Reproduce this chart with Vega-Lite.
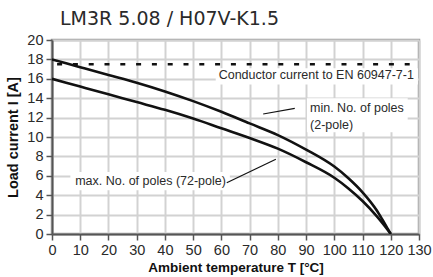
{
  "$schema": "https://vega.github.io/schema/vega-lite/v6.json",
  "autosize": "none",
  "width": 367,
  "height": 194,
  "padding": {"left": 52, "top": 40, "right": 14, "bottom": 43},
  "background": "white",
  "config": {
    "view": {"stroke": "#9a9a9a", "strokeWidth": 2.5},
    "font": "Liberation Sans",
    "axis": {
      "gridColor": "#d2d2d2",
      "gridWidth": 2,
      "domainColor": "#555555",
      "domainWidth": 2,
      "tickColor": "#555555",
      "tickWidth": 1.5,
      "tickSize": 6,
      "labelFont": "Liberation Sans",
      "labelFontSize": 14.5,
      "labelColor": "#2a2a2a",
      "labelPadding": 3,
      "labelFlush": false,
      "titleFont": "Liberation Sans",
      "titleFontWeight": "bold",
      "titleColor": "#111111"
    },
    "axisX": {"tickCount": 13, "titleFontSize": 13.5, "titlePadding": 4},
    "axisY": {"tickCount": 10, "titleFontSize": 14.5, "titlePadding": 6}
  },
  "title": {
    "text": "LM3R 5.08 / H07V-K1.5",
    "anchor": "start",
    "frame": "group",
    "offset": 3,
    "dx": 8,
    "font": "DejaVu Sans",
    "fontSize": 19,
    "fontWeight": "normal",
    "color": "#2a2a2a"
  },
  "datasets": {
    "curves": [
      {"series": "min", "T": 0, "I": 18.0},
      {"series": "min", "T": 10, "I": 17.2},
      {"series": "min", "T": 20, "I": 16.4},
      {"series": "min", "T": 30, "I": 15.6},
      {"series": "min", "T": 40, "I": 14.7},
      {"series": "min", "T": 50, "I": 13.7},
      {"series": "min", "T": 60, "I": 12.6},
      {"series": "min", "T": 70, "I": 11.4},
      {"series": "min", "T": 80, "I": 10.2},
      {"series": "min", "T": 90, "I": 8.7},
      {"series": "min", "T": 100, "I": 6.95},
      {"series": "min", "T": 105, "I": 5.75},
      {"series": "min", "T": 110, "I": 4.3},
      {"series": "min", "T": 115, "I": 2.45},
      {"series": "min", "T": 117, "I": 1.5},
      {"series": "min", "T": 119, "I": 0.5},
      {"series": "min", "T": 120, "I": 0},
      {"series": "max", "T": 0, "I": 16.0},
      {"series": "max", "T": 10, "I": 15.2},
      {"series": "max", "T": 20, "I": 14.4},
      {"series": "max", "T": 30, "I": 13.6},
      {"series": "max", "T": 40, "I": 12.8},
      {"series": "max", "T": 50, "I": 11.9},
      {"series": "max", "T": 60, "I": 10.9},
      {"series": "max", "T": 70, "I": 9.9},
      {"series": "max", "T": 80, "I": 8.8},
      {"series": "max", "T": 90, "I": 7.4},
      {"series": "max", "T": 100, "I": 5.8},
      {"series": "max", "T": 105, "I": 4.7},
      {"series": "max", "T": 110, "I": 3.4},
      {"series": "max", "T": 115, "I": 1.85},
      {"series": "max", "T": 117, "I": 1.15},
      {"series": "max", "T": 119, "I": 0.4},
      {"series": "max", "T": 120, "I": 0}
    ],
    "refline": [
      {"I": 17.5}
    ],
    "boxes": [
      {"T": 58, "T2": 129.6, "I": 15.4, "I2": 17.1},
      {"T": 90.3, "T2": 126, "I": 10.5, "I2": 14.0},
      {"T": 6.5, "T2": 63, "I": 4.5, "I2": 6.4}
    ],
    "labelsRight": [
      {"text": "Conductor current to EN 60947-7-1", "T": 128.2, "I": 16.4}
    ],
    "labelsLeft": [
      {"text": "min. No. of poles", "T": 91.4, "I": 12.96},
      {"text": "(2-pole)", "T": 91.4, "I": 11.24},
      {"text": "max. No. of poles (72-pole)", "T": 8.2, "I": 5.5}
    ],
    "leaders": [
      {"T": 74.8, "I": 12.37, "T2": 86.0, "I2": 12.96},
      {"T": 61.9, "I": 5.29, "T2": 79.3, "I2": 7.7}
    ]
  },
  "layer": [
    {
      "data": {"name": "curves"},
      "mark": {"type": "line", "interpolate": "monotone", "strokeWidth": 2.6, "clip": true},
      "encoding": {
        "x": {
          "field": "T", "type": "quantitative",
          "scale": {"domain": [0, 130], "nice": false, "zero": false},
          "axis": {"title": "Ambient temperature T [°C]"}
        },
        "y": {
          "field": "I", "type": "quantitative",
          "scale": {"domain": [0, 20], "nice": false},
          "axis": {"title": "Load current I [A]"}
        },
        "detail": {"field": "series"},
        "color": {"value": "#111111"}
      }
    },
    {
      "data": {"name": "refline"},
      "mark": {"type": "rule", "color": "#111111", "strokeWidth": 2.5, "strokeDash": [5, 10.8], "strokeDashOffset": 6.5},
      "encoding": {"y": {"field": "I", "type": "quantitative"}}
    },
    {
      "data": {"name": "boxes"},
      "mark": {"type": "rect", "fill": "white"},
      "encoding": {
        "x": {"field": "T", "type": "quantitative"},
        "x2": {"field": "T2"},
        "y": {"field": "I", "type": "quantitative"},
        "y2": {"field": "I2"}
      }
    },
    {
      "data": {"name": "labelsRight"},
      "mark": {"type": "text", "fontSize": 12.5, "color": "#2a2a2a", "baseline": "middle", "align": "right", "font": "Liberation Sans"},
      "encoding": {
        "x": {"field": "T", "type": "quantitative"},
        "y": {"field": "I", "type": "quantitative"},
        "text": {"field": "text"}
      }
    },
    {
      "data": {"name": "labelsLeft"},
      "mark": {"type": "text", "fontSize": 12.5, "color": "#2a2a2a", "baseline": "middle", "align": "left", "font": "Liberation Sans"},
      "encoding": {
        "x": {"field": "T", "type": "quantitative"},
        "y": {"field": "I", "type": "quantitative"},
        "text": {"field": "text"}
      }
    },
    {
      "data": {"name": "leaders"},
      "mark": {"type": "rule", "color": "#111111", "strokeWidth": 1.2},
      "encoding": {
        "x": {"field": "T", "type": "quantitative"},
        "y": {"field": "I", "type": "quantitative"},
        "x2": {"field": "T2"},
        "y2": {"field": "I2"}
      }
    }
  ]
}
